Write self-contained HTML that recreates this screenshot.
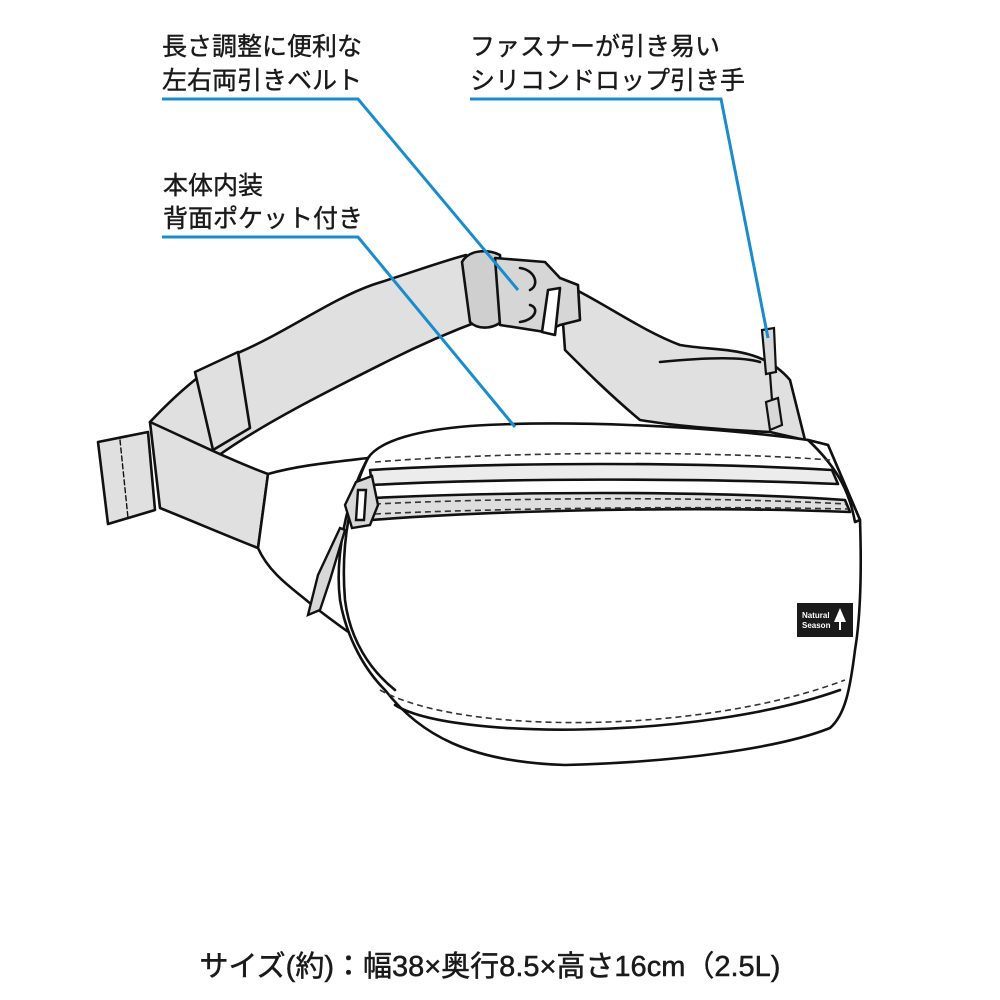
<!DOCTYPE html>
<html><head><meta charset="utf-8"><style>
html,body{margin:0;padding:0;background:#fff;width:1000px;height:1000px;overflow:hidden}
svg{display:block}
text{font-family:"Liberation Sans","Noto Sans CJK JP",sans-serif;fill:#1a1a1a}
</style></head><body>
<svg width="1000" height="1000" viewBox="0 0 1000 1000" xmlns="http://www.w3.org/2000/svg">
<g font-size="25" stroke="#1a1a1a" stroke-width="0.4">
<text x="162" y="55">長さ調整に便利な</text>
<text x="162" y="89">左右両引きベルト</text>
<text x="470" y="55">ファスナーが引き易い</text>
<text x="470" y="89">シリコンドロップ引き手</text>
<text x="163" y="194">本体内装</text>
<text x="163" y="227">背面ポケット付き</text>
</g>
<text x="490" y="976" font-size="29" text-anchor="middle" stroke="#1a1a1a" stroke-width="0.5">サイズ(約)：幅38×奥行8.5×高さ16cm（2.5L)</text>

<g stroke="#111" stroke-width="2.6" stroke-linejoin="round" stroke-linecap="round">
<path d="M150,422 C185,385 215,362 240,352 C290,330 330,300 372,285 C410,273 440,262 466,255 L482,320 C455,330 420,345 390,360 C330,390 260,425 215,458 L165,506 Z" fill="#e0e0e0"/>
<path d="M150,422 C190,440 230,460 268,474 L258,548 C225,535 190,520 160,508 Z" fill="#e0e0e0"/>
<path d="M195,372 L238,352 L250,428 L213,450 Z" fill="#e0e0e0"/>
<path d="M98,442 L148,432 L155,510 L108,524 Z" fill="#e0e0e0"/>
<path d="M120,440 L128,518" stroke-width="1.4" stroke-dasharray="5,3" fill="none"/>
<path d="M560,282 C600,300 640,330 680,345 C720,352 760,345 790,380 L805,440 L770,432 C720,430 670,425 640,420 C610,395 585,370 565,350 Z" fill="#e0e0e0"/>
<path d="M660,362 C700,358 740,356 760,362" fill="none"/>
<path d="M462,262 C470,248 490,250 500,255 L505,318 C495,330 478,330 470,322 Z" fill="#cfcfcf"/>
<path d="M495,258 L545,262 L560,278 L578,285 L580,320 L560,325 L545,332 L500,325 Z" fill="#d6d6d6"/>
<path d="M548,290 L560,288 L555,335 L542,332 Z" fill="#fff"/>
<path d="M520,268 C535,270 540,285 530,290 M520,322 C535,320 540,308 530,305" fill="none"/>
<path d="M268,474 C300,465 335,462 368,458 L360,640 C345,630 325,615 312,605 C295,590 270,575 258,548 Z" fill="#fff"/>
<path d="M368,458 C380,440 420,430 470,426 C560,420 700,425 808,440 L828,445 L860,520 C862,580 860,620 855,650 C850,690 845,715 830,728 C780,748 680,762 565,765 C470,762 420,735 385,690 C360,665 345,630 340,600 C335,560 345,500 368,458 Z" fill="#fff"/>
<path d="M808,440 L828,445 L860,520 L855,522 C850,495 840,470 808,440" fill="#fff"/>
<path d="M368,458 C352,490 340,540 345,600 C350,640 370,670 395,690" fill="none"/>
<path d="M370,470 C500,462 700,462 832,470 L838,484 C700,478 500,478 372,485 Z" fill="#ececec"/>
<path d="M372,498 C500,492 700,490 845,500 L850,512 C700,506 500,510 372,520 Z" fill="#dedede"/>
<path d="M395,705 C450,740 700,740 840,690" fill="none"/>
</g>
<g stroke="#333" stroke-width="1.6" stroke-dasharray="6,4" fill="none">
<path d="M375,462 C500,452 700,450 830,460"/>
<path d="M375,504 C500,498 700,496 846,504"/>
<path d="M375,514 C500,508 700,506 848,509"/>
<path d="M380,690 C460,735 700,735 845,680"/>
</g>
<g stroke="#111" stroke-width="2.4" fill="#d8d8d8">
<path d="M356,482 L372,476 L378,505 L370,525 L352,528 L345,505 Z"/>
<path d="M358,490 L366,490 L364,520 L356,520 Z" fill="#fff"/>
<path d="M345,530 L330,580 L320,610 L308,615 L318,575 L340,528 Z"/>
</g>
<g stroke="#111" stroke-width="2.2" fill="#d8d8d8">
<path d="M762,330 L774,328 L776,372 L766,374 Z"/>
<path d="M766,402 L778,398 L782,425 L770,430 Z"/>
<path d="M770,374 L772,400" fill="none"/>
</g>
<rect x="797" y="603" width="56" height="34" fill="#1a1a1a"/>
<text x="802" y="618" font-size="8" font-weight="bold" style="fill:#fff">Natural</text>
<text x="802" y="628" font-size="8" font-weight="bold" style="fill:#fff">Season</text>
<path d="M840,608 L846,622 L834,622 Z M839,622 h2 v8 h-2 Z" fill="#fff"/>
<g stroke="#1a8ccc" stroke-width="3" fill="none">
<path d="M162,99 L358,99 L518,290"/>
<path d="M470,99 L721,99 L768,338"/>
<path d="M162,237 L358,237 L515,427"/>
</g>
</svg>
</body></html>
